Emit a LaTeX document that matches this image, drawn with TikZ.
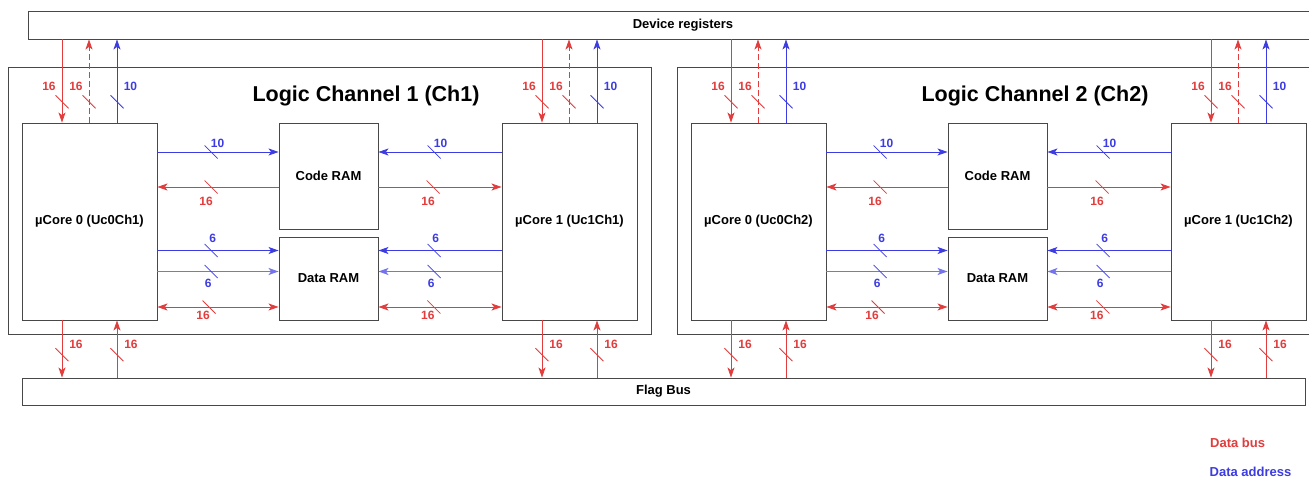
\documentclass[tikz,border=0pt]{standalone}
\usepackage{fontspec}
\setmainfont{Liberation Sans}
\usetikzlibrary{arrows.meta,calc}
\definecolor{dred}{RGB}{226,60,60}
\definecolor{dblue}{RGB}{60,60,226}
\definecolor{lblue}{RGB}{115,115,236}
\definecolor{bord}{RGB}{72,72,72}
\begin{document}
\begin{tikzpicture}[x=1pt,y=-1pt,
  box/.style={draw=bord, line width=0.9pt, fill=white, inner sep=0pt,
    font=\fontsize{13}{15}\selectfont\bfseries},
  chbox/.style={draw=bord, line width=0.9pt, inner sep=0pt},
  ttl/.style={font=\fontsize{21.5}{24}\selectfont\bfseries, inner sep=0pt},
  ra/.style={draw=dred, line width=0.8pt, -{Stealth[length=10pt,width=7pt,inset=2.5pt]}},
  rda/.style={draw=dred, line width=0.8pt, {Stealth[length=10pt,width=7pt,inset=2.5pt]}-{Stealth[length=10pt,width=7pt,inset=2.5pt]}},
  rdash/.style={ra, dash pattern=on 6pt off 3pt},
  ba/.style={draw=dblue, line width=0.8pt, -{Stealth[length=10pt,width=7pt,inset=2.5pt]}},
  bla/.style={draw=lblue, line width=1.2pt, -{Stealth[length=10pt,width=7pt,inset=2.5pt]}},
  slr/.style={draw=dred, line width=0.8pt},
  slb/.style={draw=dblue, line width=0.8pt},
  lr/.style={text=dred, inner sep=0pt, font=\fontsize{12}{14}\selectfont\bfseries},
  lb/.style={text=dblue, inner sep=0pt, font=\fontsize{12}{14}\selectfont\bfseries},
]
\clip (0,0) rectangle (1309,478);
\fill[white] (0,0) rectangle (1309,478);

% horizontal levels
\coordinate (ya) at (0,152);
\coordinate (yb) at (0,187);
\coordinate (yc) at (0,250.5);
\coordinate (yd) at (0,271.5);
\coordinate (ye) at (0,307);

\node[box, minimum width=1310pt, minimum height=28pt] (dr) at (683,25) {Device registers};
\node[box, minimum width=1283pt, minimum height=27pt] (fb) at (663.5,391.5) {Flag Bus};

\foreach \c/\dx in {1/0,2/669}{
\begin{scope}[xshift=\dx pt]
  \node[chbox, minimum width=643pt, minimum height=267pt] (ch\c) at (329.5,200.5) {};
  \node[ttl] (t\c) at (366,96) {Logic Channel \c\ (Ch\c)};
  \node[box, minimum width=135pt, minimum height=197pt] (ua\c) at (89.5,221.5) {µCore 0 (Uc0Ch\c)};
  \node[box, minimum width=99pt, minimum height=106pt] (cr\c) at (328.5,176) {Code RAM};
  \node[box, minimum width=99pt, minimum height=83pt] (dm\c) at (328.5,278.5) {Data RAM};
  \node[box, minimum width=135pt, minimum height=197pt] (ub\c) at (569.5,221.5) {µCore 1 (Uc1Ch\c)};

  \coordinate (xa\c) at (62,0);
  \coordinate (xb\c) at (89,0);
  \coordinate (xc\c) at (117,0);
  \coordinate (xd\c) at (542,0);
  \coordinate (xe\c) at (569,0);
  \coordinate (xf\c) at (597,0);

  % top vertical connections, core 0
  \draw[ra] (dr.south -| xa\c) -- coordinate[pos=0.75] (va\c) (ua\c.north -| xa\c);
  \draw[rdash] (ua\c.north -| xb\c) -- coordinate[pos=0.25] (vb\c) (dr.south -| xb\c);
  \draw[ba] (ua\c.north -| xc\c) -- coordinate[pos=0.25] (vc\c) (dr.south -| xc\c);
  % top vertical connections, core 1
  \draw[ra] (dr.south -| xd\c) -- coordinate[pos=0.75] (vd\c) (ub\c.north -| xd\c);
  \draw[rdash] (ub\c.north -| xe\c) -- coordinate[pos=0.25] (ve\c) (dr.south -| xe\c);
  \draw[ba] (ub\c.north -| xf\c) -- coordinate[pos=0.25] (vf\c) (dr.south -| xf\c);
  \foreach \v in {va,vb,vd,ve}{
    \draw[slr] (\v\c) +(-6.5,-6.5) -- +(6.5,6.5);
    \node[lr] at ($(\v\c)+(-13,-15)$) {16};
  }
  \foreach \v in {vc,vf}{
    \draw[slb] (\v\c) +(-6.5,-6.5) -- +(6.5,6.5);
    \node[lb] at ($(\v\c)+(13.5,-15)$) {10};
  }

  % bottom vertical connections to flag bus
  \draw[ra] (ua\c.south -| xa\c) -- coordinate[pos=0.6] (wa\c) (fb.north -| xa\c);
  \draw[ra] (fb.north -| xc\c) -- coordinate[pos=0.4] (wc\c) (ua\c.south -| xc\c);
  \draw[ra] (ub\c.south -| xd\c) -- coordinate[pos=0.6] (wd\c) (fb.north -| xd\c);
  \draw[ra] (fb.north -| xf\c) -- coordinate[pos=0.4] (wf\c) (ub\c.south -| xf\c);
  \foreach \v in {wa,wc,wd,wf}{
    \draw[slr] (\v\c) +(-6.5,-6.5) -- +(6.5,6.5);
    \node[lr] at ($(\v\c)+(14,-10.5)$) {16};
  }

  % left horizontal connections
  \draw[ba] (ua\c.east |- ya) -- coordinate[pos=0.443] (ha\c) (cr\c.west |- ya);
  \draw[ra] (cr\c.west |- yb) -- coordinate[pos=0.557] (hb\c) (ua\c.east |- yb);
  \draw[ba] (ua\c.east |- yc) -- coordinate[pos=0.443] (hc\c) (dm\c.west |- yc);
  \draw[bla] (ua\c.east |- yd) -- coordinate[pos=0.443] (hd\c) (dm\c.west |- yd);
  \draw[rda] (ua\c.east |- ye) -- coordinate[pos=0.426] (he\c) (dm\c.west |- ye);
  % right horizontal connections
  \draw[ba] (ub\c.west |- ya) -- coordinate[pos=0.548] (hf\c) (cr\c.east |- ya);
  \draw[ra] (cr\c.east |- yb) -- coordinate[pos=0.444] (hg\c) (ub\c.west |- yb);
  \draw[ba] (ub\c.west |- yc) -- coordinate[pos=0.548] (hh\c) (dm\c.east |- yc);
  \draw[bla] (ub\c.west |- yd) -- coordinate[pos=0.548] (hi\c) (dm\c.east |- yd);
  \draw[rda] (dm\c.east |- ye) -- coordinate[pos=0.45] (hj\c) (ub\c.west |- ye);

  \foreach \v in {ha,hf}{
    \draw[slb] (\v\c) +(-6.5,-6.5) -- +(6.5,6.5);
    \node[lb] at ($(\v\c)+(6.5,-9)$) {10};
  }
  \foreach \v in {hb,hg}{
    \draw[slr] (\v\c) +(-6.5,-6.5) -- +(6.5,6.5);
    \node[lr] at ($(\v\c)+(-5,14)$) {16};
  }
  \foreach \v in {hc,hh}{
    \draw[slb] (\v\c) +(-6.5,-6.5) -- +(6.5,6.5);
    \node[lb] at ($(\v\c)+(1.5,-12)$) {6};
  }
  \foreach \v in {hd,hi}{
    \draw[slb] (\v\c) +(-6.5,-6.5) -- +(6.5,6.5);
    \node[lb] at ($(\v\c)+(-3,11.5)$) {6};
  }
  \foreach \v in {he,hj}{
    \draw[slr] (\v\c) +(-6.5,-6.5) -- +(6.5,6.5);
    \node[lr] at ($(\v\c)+(-6,8.5)$) {16};
  }
\end{scope}
}

% legend
\node[lr, anchor=west, font=\fontsize{13}{15}\selectfont\bfseries] (lg1) at (1210,443) {Data bus};
\node[lb, anchor=west, font=\fontsize{13}{15}\selectfont\bfseries] (lg2) at (1209.5,471.5) {Data address};
\end{tikzpicture}
\end{document}
